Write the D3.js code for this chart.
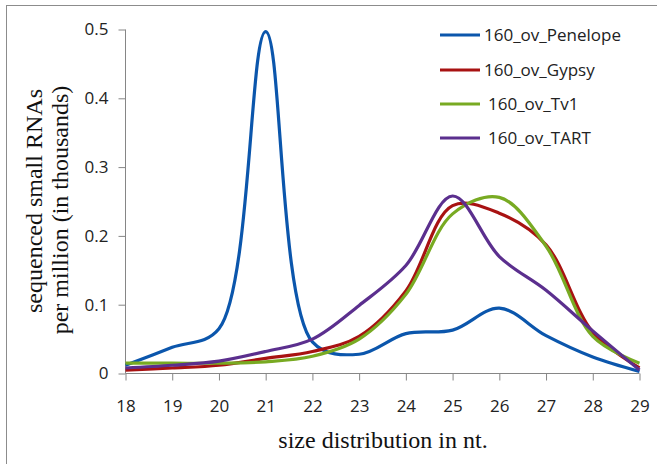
<!DOCTYPE html>
<head>
<script src="https://cdn.jsdelivr.net/npm/d3@7"></script>
</head>
<style type="text/css">
body{ margin:0; background:#fff; }
.axis path, .axis line{ stroke:#868686; }
.axis text{ font-family:"Open Sans", sans-serif; font-size:17px; fill:#222; }
.title{ font-family:"Liberation Serif", "Times New Roman", serif; font-size:24px; fill:#111; }
.legend text{ font-family:"Open Sans", sans-serif; font-size:17px; fill:#222; }
</style>
<body>
<div class="viz"></div>
</body>
<script type="text/javascript">
// size in nt
var sizes=[18,19,20,21,22,23,24,25,26,27,28,29];
var penelope=[0.012,0.038,0.065,0.497,0.046,0.028,0.058,0.063,0.095,0.055,0.024,0.003];
var gypsy=[0.005,0.008,0.012,0.022,0.032,0.054,0.12,0.244,0.233,0.187,0.06,0.008];
var tv1=[0.015,0.015,0.015,0.017,0.025,0.05,0.115,0.232,0.256,0.185,0.054,0.015];
var tart=[0.008,0.012,0.018,0.032,0.05,0.099,0.157,0.258,0.17,0.121,0.062,0.005];
var names=["160_ov_Penelope","160_ov_Gypsy","160_ov_Tv1","160_ov_TART"];
var colors=["#0b56ac","#a81212","#78aa22","#5b2f8e"];
var yticks=[0,0.1,0.2,0.3,0.4,0.5];

var series=[penelope,gypsy,tv1,tart];

var svg=d3.select(".viz").append("svg").attr("width",657).attr("height",464);
svg.append("rect").attr("x",6.5).attr("y",5.5).attr("width",700).attr("height",500)
	.style("fill","none").style("stroke","#8c8c8c");

var xscale=d3.scaleLinear().domain([18,29]).range([125.5,639.5]);
var yscale=d3.scaleLinear().domain([0,0.5]).range([373.5,29.5]);

var xaxis=d3.axisBottom(xscale).tickValues(sizes).tickSize(7).tickPadding(19).tickFormat(d3.format("d"));
var yaxis=d3.axisLeft(yscale).tickValues(yticks).tickSize(7).tickPadding(10).tickFormat(function(d){return d==0?"0":d3.format(".1f")(d);});

svg.append("g").attr("class","axis").attr("transform","translate(0,"+yscale(0)+")").call(xaxis)
	.select(".domain").attr("d","M125.5,0H639.5");
svg.append("g").attr("class","axis").attr("transform","translate("+xscale(18)+",0)").call(yaxis)
	.select(".domain").remove();
svg.append("line").attr("x1",xscale(18)).attr("x2",xscale(18)).attr("y1",yscale(0.5)).attr("y2",yscale(0))
	.style("stroke","#868686");

var line=d3.line().curve(d3.curveCatmullRom.alpha(0.5))
	.x(function(d,i){return xscale(sizes[i]);})
	.y(function(d){return yscale(d);});

for(var s=0;s<series.length;s++){
	svg.append("path").attr("d",line(series[s]))
		.style("fill","none").style("stroke",colors[s]).style("stroke-width",3.2)
		.style("stroke-linejoin","round");
}

// legend
var legend=svg.append("g").attr("class","legend");
var ly=[35,70,104,138];
var lx=[484,484,488,488];
for(var k=0;k<names.length;k++){
	legend.append("line").attr("x1",440).attr("x2",480).attr("y1",ly[k]).attr("y2",ly[k])
		.style("stroke",colors[k]).style("stroke-width",3.2);
	legend.append("text").attr("x",lx[k]).attr("y",ly[k]+6).text(names[k]);
}

// titles
svg.append("text").attr("class","title").attr("x",383).attr("y",448).attr("text-anchor","middle")
	.text("size distribution in nt.");
svg.append("text").attr("class","title").attr("text-anchor","middle")
	.attr("transform","translate(42,201) rotate(-90)").text("sequenced small RNAs");
svg.append("text").attr("class","title").attr("text-anchor","middle")
	.attr("transform","translate(68,210) rotate(-90)").text("per million (in thousands)");
</script>
